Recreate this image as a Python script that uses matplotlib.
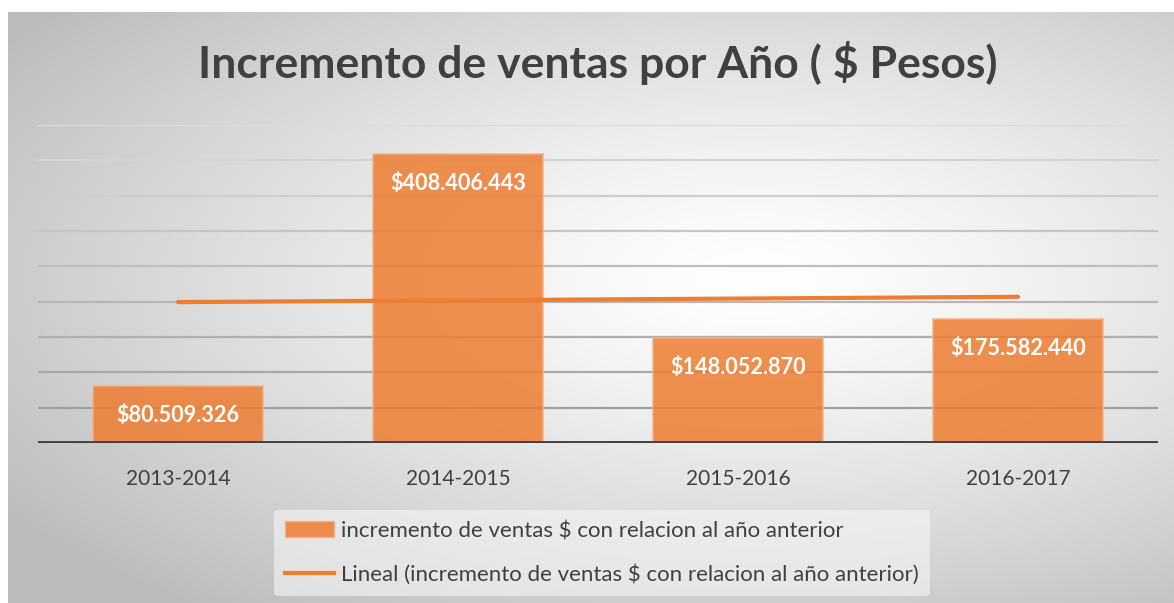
import matplotlib.pyplot as plt
import numpy as np
from matplotlib.patches import Patch
from matplotlib.lines import Line2D

# Datos
periodos = ["2013-2014", "2014-2015", "2015-2016", "2016-2017"]
incremento = [80509326, 408406443, 148052870, 175582440]  # $ pesos
etiquetas = ["$80.509.326", "$408.406.443", "$148.052.870", "$175.582.440"]

titulo = "Incremento de ventas por Año ( $ Pesos)"
serie = "incremento de ventas $ con relacion al año anterior"
tendencia = "Lineal (incremento de ventas $ con relacion al año anterior)"

W, H = 1174, 603
fig = plt.figure(figsize=(W / 100, H / 100), dpi=100)
plt.rcParams['font.family'] = ['Lato', 'DejaVu Sans']

# Fondo con degradado radial
bg = fig.add_axes([8 / W, 0, 1 - 8 / W, 1 - 12 / H], zorder=-10)
yy, xx = np.mgrid[0:1:300j, 0:1:600j]
r = np.sqrt(((xx - 0.64) / 1.0) ** 2 + ((yy - 0.45) / 0.9) ** 2)
g = np.clip(1.0 - 0.36 * r ** 1.3, 0.74, 1.0)
bg.imshow(np.dstack([g, g, g]), aspect='auto', extent=[0, 1, 0, 1], origin='upper')
bg.axis('off')

ax = fig.add_axes([38 / W, (H - 443) / H, 1120 / W, 318 / H])
ax.patch.set_alpha(0)

vals = np.array(incremento) / 1e6
x = np.arange(len(periodos))

# Lineas de cuadricula (más oscuras abajo)
niveles = np.arange(50, 451, 50)
for n in niveles:
    c = 0.60 + 0.26 * (n / 450)
    ax.axhline(n, color=(c, c, c), lw=1.6, zorder=0)

ax.bar(x, vals, width=0.607, color='#ED7D31', alpha=0.85,
       edgecolor='#F4B183', linewidth=1.2, zorder=2)

for xi, v, lab in zip(x, vals, etiquetas):
    ax.annotate(lab, (xi, v), xytext=(0, -21), textcoords='offset points',
                ha='center', va='center', color='white', fontsize=15.6,
                fontweight='bold', zorder=4)

# Linea de tendencia lineal
m, b = np.polyfit(x, vals, 1)
ax.plot(x, m * x + b, color='#ED7D31', lw=3, solid_capstyle='round', zorder=3)

ax.axhline(0, color='#404040', lw=3.5, zorder=5)

ax.set_xlim(-0.5, 3.5)
ax.set_ylim(0, 450)
ax.set_yticks([])
ax.set_xticks(x)
ax.set_xticklabels(periodos, fontsize=15, color='#404040')
ax.tick_params(axis='x', length=0, pad=19)
for s in ax.spines.values():
    s.set_visible(False)

fig.text(598 / W, 1 - 63 / H, titulo, ha='center', va='center',
         fontsize=32, fontweight='bold', color='#404040')

# Leyenda
handles = [Patch(facecolor='#ED7D31', alpha=0.85, edgecolor='#F4B183'),
           Line2D([0], [0], color='#ED7D31', lw=3)]
leg = fig.legend(handles, [serie, tendencia], loc='center left',
                 bbox_to_anchor=(263 / W, 1 - 553 / H), fontsize=16,
                 frameon=True, facecolor='#f6f6f6', edgecolor='none',
                 framealpha=0.6, labelspacing=1.05, handlelength=2.2,
                 handletextpad=0.3, borderpad=0.5)
for t in leg.get_texts():
    t.set_color('#404040')

fig.savefig('out.png', dpi=100)
